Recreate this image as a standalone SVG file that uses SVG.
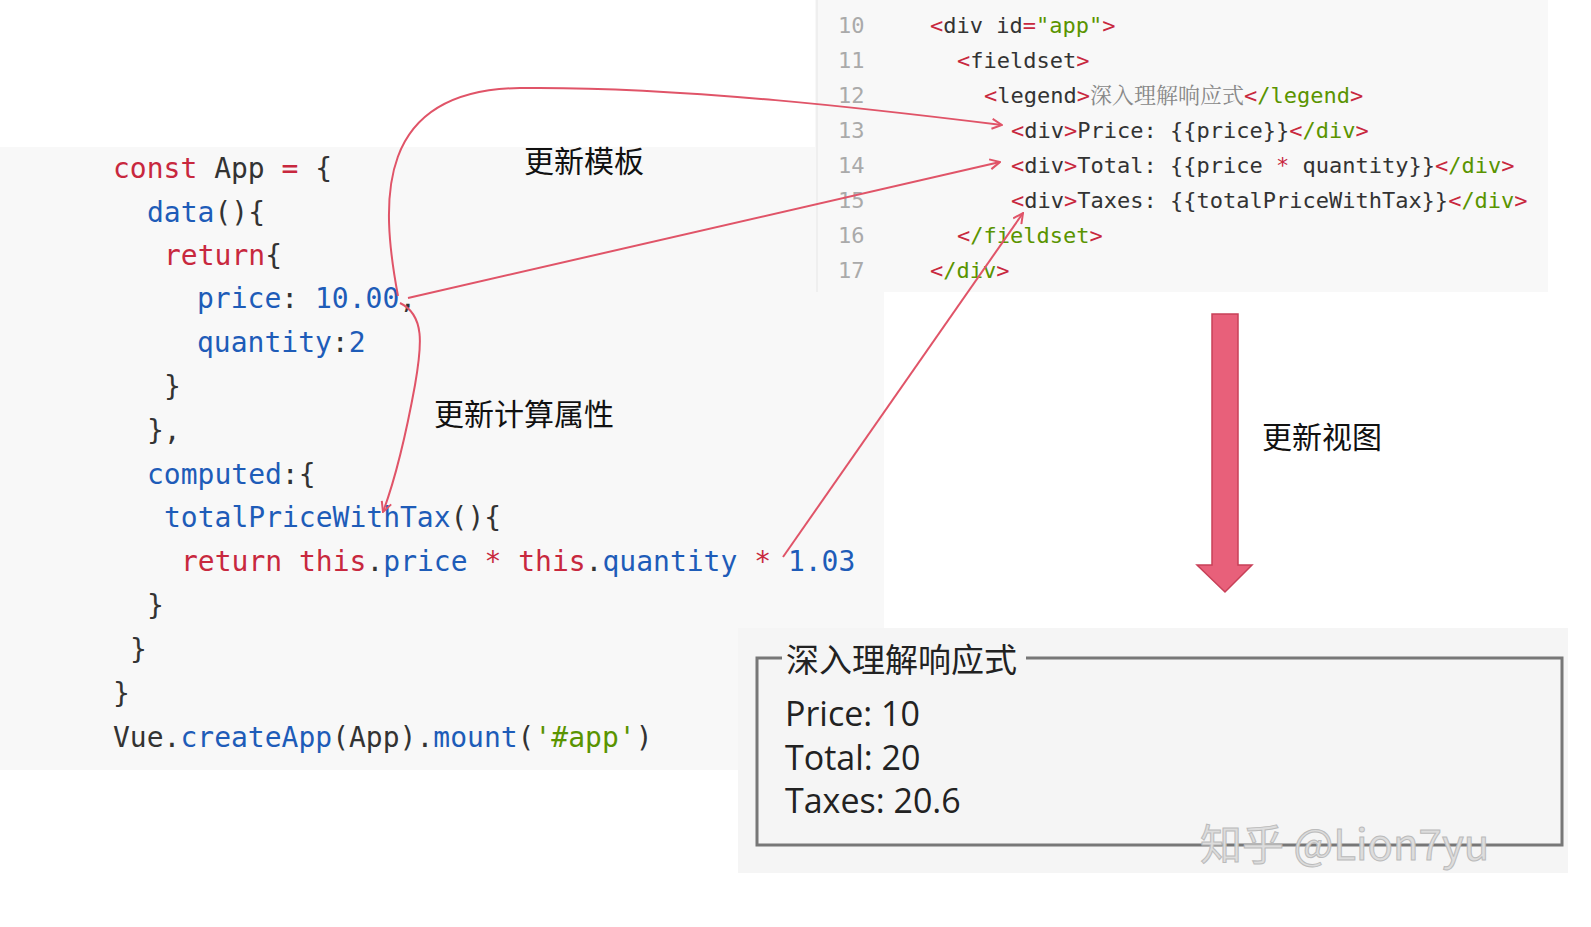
<svg xmlns="http://www.w3.org/2000/svg" width="1591" height="927" viewBox="0 0 1591 927">
<style>
.c{font-family:"DejaVu Sans Mono","Liberation Mono",monospace;font-size:28px;fill:#333}
.r{font-family:"DejaVu Sans Mono","Liberation Mono",monospace;font-size:22px;fill:#333}
.n{fill:#aaa}.k{fill:#c8283e}.b{fill:#1e5cb8}.g{fill:#5a9400}.t{fill:#888}
.lab{font-family:"Noto Sans CJK SC",sans-serif;font-size:30px;fill:#111}
.fs{font-family:"Open Sans","Noto Sans CJK SC",sans-serif;font-size:34px;fill:#222}
.a{fill:none;stroke:#e05468;stroke-width:2}
</style>
<defs><marker id="m" viewBox="0 0 12 12" refX="11" refY="6" markerWidth="12" markerHeight="12" markerUnits="userSpaceOnUse" orient="auto"><path d="M1,1 L11,6 L1,11" fill="none" stroke="#e05468" stroke-width="2"/></marker></defs>
<rect width="1591" height="927" fill="#fff"/>
<g id="leftcode">
<rect x="0" y="147" width="884" height="623" fill="#f8f8f8"/>
<text class="c" x="113" y="178"><tspan class="k">const</tspan> App <tspan class="k">=</tspan> {</text>
<text class="c" x="147" y="222"><tspan class="b">data</tspan>(){</text>
<text class="c" x="164" y="265"><tspan class="k">return</tspan>{</text>
<text class="c" x="197" y="308"><tspan class="b">price</tspan>: <tspan class="b">10.00</tspan>,</text>
<text class="c" x="197" y="352"><tspan class="b">quantity</tspan>:<tspan class="b">2</tspan></text>
<text class="c" x="164" y="396">}</text>
<text class="c" x="147" y="440">},</text>
<text class="c" x="147" y="484"><tspan class="b">computed</tspan>:{</text>
<text class="c" x="164" y="527"><tspan class="b">totalPriceWithTax</tspan>(){</text>
<text class="c" x="181" y="571"><tspan class="k">return this</tspan>.<tspan class="b">price</tspan> <tspan class="k">*</tspan> <tspan class="k">this</tspan>.<tspan class="b">quantity</tspan> <tspan class="k">*</tspan> <tspan class="b">1.03</tspan></text>
<text class="c" x="147" y="615">}</text>
<text class="c" x="130" y="659">}</text>
<text class="c" x="113" y="703">}</text>
<text class="c" x="113" y="747">Vue.<tspan class="b">createApp</tspan>(App).<tspan class="b">mount</tspan>(<tspan class="g">'#app'</tspan>)</text>
</g>
<g id="rightcode">
<rect x="815" y="0" width="733" height="292" fill="#f8f8f8"/>
<line x1="817" y1="0" x2="817" y2="292" stroke="#e6e6e6"/>
<text class="r n" x="838" y="33">10</text><text class="r n" x="838" y="68">11</text><text class="r n" x="838" y="103">12</text><text class="r n" x="838" y="138">13</text><text class="r n" x="838" y="173">14</text><text class="r n" x="838" y="208">15</text><text class="r n" x="838" y="243">16</text><text class="r n" x="838" y="278">17</text>
<text class="r" x="930" y="33"><tspan class="k">&lt;</tspan>div id<tspan class="k">=</tspan><tspan class="g">"app"</tspan><tspan class="k">&gt;</tspan></text>
<text class="r" x="957" y="68"><tspan class="k">&lt;</tspan>fieldset<tspan class="k">&gt;</tspan></text>
<text class="r" x="984" y="103"><tspan class="k">&lt;</tspan>legend<tspan class="k">&gt;</tspan><tspan class="t" style="font-family:'Noto Serif CJK SC','Noto Sans CJK SC',serif">深入理解响应式</tspan><tspan class="k">&lt;</tspan><tspan class="g">/legend</tspan><tspan class="k">&gt;</tspan></text>
<text class="r" x="1011" y="138"><tspan class="k">&lt;</tspan>div<tspan class="k">&gt;</tspan>Price: {{price}}<tspan class="k">&lt;</tspan><tspan class="g">/div</tspan><tspan class="k">&gt;</tspan></text>
<text class="r" x="1011" y="173"><tspan class="k">&lt;</tspan>div<tspan class="k">&gt;</tspan>Total: {{price <tspan class="k">*</tspan> quantity}}<tspan class="k">&lt;</tspan><tspan class="g">/div</tspan><tspan class="k">&gt;</tspan></text>
<text class="r" x="1011" y="208"><tspan class="k">&lt;</tspan>div<tspan class="k">&gt;</tspan>Taxes: {{totalPriceWithTax}}<tspan class="k">&lt;</tspan><tspan class="g">/div</tspan><tspan class="k">&gt;</tspan></text>
<text class="r" x="957" y="243"><tspan class="k">&lt;</tspan><tspan class="g">/fieldset</tspan><tspan class="k">&gt;</tspan></text>
<text class="r" x="930" y="278"><tspan class="k">&lt;</tspan><tspan class="g">/div</tspan><tspan class="k">&gt;</tspan></text>
</g>
<g id="result">
<rect x="738" y="628" width="830" height="245" fill="#f5f5f5"/>
<rect x="757" y="658" width="805" height="187" fill="none" stroke="#777" stroke-width="3"/>
<rect x="782" y="640" width="244" height="36" fill="#f5f5f5"/>
<text class="fs" x="786" y="672" style="font-family:'Noto Sans CJK SC',sans-serif;font-size:33px">深入理解响应式</text>
<text class="fs" x="785" y="726">Price: 10</text>
<text class="fs" x="785" y="770">Total: 20</text>
<text class="fs" x="785" y="813">Taxes: 20.6</text>
<text x="1200" y="860" style="font-family:'Noto Sans CJK SC',sans-serif;font-size:42px" fill="#ddd" stroke="#bbb" stroke-width="1">知乎 @Lion7yu</text>
</g>
<g id="viewarrow">
<path d="M1212,314 H1238 V565 H1252 L1225,592 L1197,565 H1212 Z" fill="#e8607a" stroke="#c84058" stroke-width="1.5"/>
</g>
<g id="labels">
<text class="lab" x="524" y="172">更新模板</text>
<text class="lab" x="434" y="425">更新计算属性</text>
<text class="lab" x="1262" y="448">更新视图</text>
</g>
<g id="connectors">
<path class="a" marker-end="url(#m)" d="M398,296 C380,200 375,90 520,88 C680,86 880,110 1002,125"/>
<path class="a" marker-end="url(#m)" d="M408,298 L1000,162"/>
<path class="a" marker-end="url(#m)" d="M400,303 C425,315 422,345 415,385 C405,440 393,485 383,512"/>
<path class="a" marker-end="url(#m)" d="M783,557 L1023,213"/>
</g>
</svg>
